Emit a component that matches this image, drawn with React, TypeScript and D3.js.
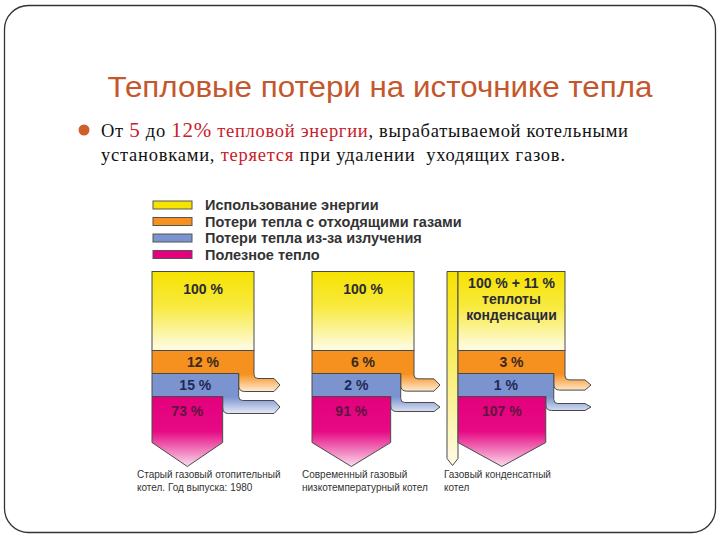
import React from "react";
import * as d3 from "d3";

// ---------- data ----------
const boilers = [
  "Старый газовый отопительный котел",
  "Современный газовый низкотемпературный котел",
  "Газовый конденсатный котел",
];
const boilerCaptions = [
  ["Старый газовый отопительный", "котел. Год выпуска: 1980"],
  ["Современный газовый", "низкотемпературный котел"],
  ["Газовый конденсатный", "котел"],
];
const energyInput = [100, 100, 100];
const condensationGain = [0, 0, 11];
const fluegasLoss = [12, 6, 3];
const radiationLoss = [15, 2, 1];
const usefulHeat = [73, 91, 107];
const legendLabels = [
  "Использование энергии",
  "Потери тепла с отходящими газами",
  "Потери тепла из-за излучения",
  "Полезное тепло",
];
const titleText = "Тепловые потери на источнике тепла";

// ---------- styles ----------
const C = {
  yellow: "#f6e400",
  orange: "#f6901f",
  blue: "#7b93cf",
  pink: "#e5007e",
  stroke: "#4a4a4a",
  title: "#c4572c",
  red: "#c8202a",
};
const legendColors = [C.yellow, C.orange, C.blue, C.pink];

// layout (vertical stages)
const yTop = 271.5;
const yYellow = 350.5;
const yOrange = 373.5;
const yBlue = 396.5;
const yPink = 442.5;
const yTip = 466.5;
const orangeArrowMid = 385;
const blueArrowMid = 407;
const r = 4;

export default function App() {
  const xLeft = d3.scaleOrdinal<string, number>().domain(boilers).range([152, 312, 458]);
  const captionX = d3.scaleOrdinal<string, number>().domain(boilers).range([137, 302, 444]);
  const colWidth = d3.scaleLinear().domain([100, 111]).range([102, 107]);
  const condWidth = d3.scaleLinear().domain([0, 11]).range([0, 11]);
  const legW = d3.scaleLog().domain([1, 15]).range([8, 16]);

  const cols = boilers.map((b, i) => {
    const L = xLeft(b);
    const W = colWidth(energyInput[i] + condensationGain[i]);
    const R = L + W;
    const bR = R - legW(fluegasLoss[i]);
    const pR = bR - legW(radiationLoss[i]);
    return { b, i, L, R, bR, pR };
  });

  const lossPath = (
    L: number, R: number, inner: number, yA: number, yB: number, mid: number, T: number
  ) => {
    const th = Math.min(13, R - inner - 1);
    const a1 = mid - th / 2;
    const a2 = mid + th / 2;
    const p = d3.path();
    p.moveTo(L, yA);
    p.lineTo(R, yA);
    p.lineTo(R, a1 - r);
    p.quadraticCurveTo(R, a1, R + r, a1);
    p.lineTo(T - 6, a1);
    p.lineTo(T, mid);
    p.lineTo(T - 6, a2);
    p.lineTo(inner + 6, a2);
    p.quadraticCurveTo(inner, a2, inner, a2 - 6);
    p.lineTo(inner, yB);
    p.lineTo(L, yB);
    p.closePath();
    return p.toString();
  };

  const pinkPath = (L: number, pR: number) => {
    const p = d3.path();
    p.moveTo(L, yBlue);
    p.lineTo(pR, yBlue);
    p.lineTo(pR, yPink);
    p.lineTo((L + pR) / 2, yTip);
    p.lineTo(L, yPink);
    p.closePath();
    return p.toString();
  };

  const sans = "'Liberation Sans', Arial, sans-serif";
  const serif = "'Liberation Serif', 'Times New Roman', serif";

  return (
    <svg
      width={720}
      height={540}
      style={{ position: "absolute", left: 0, top: 0, background: "#fff" }}
    >
      <defs>
        <linearGradient id="gYellow" x1="0" y1="0" x2="0" y2="1">
          <stop offset="0" stopColor="#f6e200" />
          <stop offset="0.45" stopColor="#f8ea40" />
          <stop offset="1" stopColor="#fffce8" />
        </linearGradient>
        <linearGradient id="gCond" x1="0" y1="0" x2="0" y2="1">
          <stop offset="0" stopColor="#f6e200" />
          <stop offset="0.5" stopColor="#f9ee70" />
          <stop offset="1" stopColor="#fffbe8" />
        </linearGradient>
        <linearGradient id="gPink" gradientUnits="userSpaceOnUse" x1="0" y1={yBlue} x2="0" y2={yTip}>
          <stop offset="0" stopColor="#e4007c" />
          <stop offset="0.5" stopColor="#e60a84" />
          <stop offset="1" stopColor="#fbdcec" />
        </linearGradient>
        <linearGradient id="gOrange" gradientUnits="userSpaceOnUse" x1="0" y1={yYellow} x2="0" y2={393}>
          <stop offset="0" stopColor={C.orange} />
          <stop offset="0.55" stopColor={C.orange} />
          <stop offset="1" stopColor="#fff4e4" />
        </linearGradient>
        <linearGradient id="gBlue" gradientUnits="userSpaceOnUse" x1="0" y1={yOrange} x2="0" y2={415}>
          <stop offset="0" stopColor={C.blue} />
          <stop offset="0.57" stopColor={C.blue} />
          <stop offset="1" stopColor="#f1f3fa" />
        </linearGradient>
      </defs>

      {/* slide frame */}
      <rect x={4.5} y={5.5} width={711} height={527} rx={24} ry={24} fill="#fff" stroke="#333" strokeWidth={1.3} />

      {/* title */}
      <text x={380} y={97} textAnchor="middle" fontFamily={sans} fontSize={29} fill={C.title}
        textLength={545} lengthAdjust="spacingAndGlyphs">
        {titleText}
      </text>

      {/* bullet */}
      <circle cx={84} cy={130} r={5.5} fill="#d0602a" />
      <text x={101} y={137} fontFamily={serif} fontSize={18.5} fill="#111" style={{ whiteSpace: "pre" }}
        textLength={527} lengthAdjust="spacing">
        <tspan>От </tspan>
        <tspan fill={C.red} fontSize={21}>5</tspan>
        <tspan> до </tspan>
        <tspan fill={C.red} fontSize={21}>12%</tspan>
        <tspan fill={C.red}> тепловой энергии</tspan>
        <tspan>, вырабатываемой котельными</tspan>
      </text>
      <text x={101} y={161} fontFamily={serif} fontSize={18.5} fill="#111" style={{ whiteSpace: "pre" }}
        textLength={464} lengthAdjust="spacing">
        <tspan>установками, </tspan>
        <tspan fill={C.red}>теряется</tspan>
        <tspan> при удалении  уходящих газов.</tspan>
      </text>

      {/* legend */}
      {legendLabels.map((lab, k) => {
        const y = 201 + k * 16.5;
        return (
          <g key={lab}>
            <rect x={153} y={y} width={39} height={8} fill={legendColors[k]} stroke="#555" strokeWidth={1} />
            <text x={205} y={y + 9} fontFamily={sans} fontWeight="bold" fontSize={14.5} fill="#333">
              {lab}
            </text>
          </g>
        );
      })}

      {/* columns */}
      {cols.map(({ b, i, L, R, bR, pR }) => {
        const T = R + 26;
        const cw = condWidth(condensationGain[i]);
        const energyLines =
          condensationGain[i] > 0
            ? [`${energyInput[i]} % + ${condensationGain[i]} %`, "теплоты", "конденсации"]
            : [`${energyInput[i]} %`];
        const condPath = (() => {
          const p = d3.path();
          const x0 = L - cw;
          p.moveTo(x0, yTop);
          p.lineTo(L, yTop);
          p.lineTo(L, yTip - 8);
          p.lineTo((x0 + L) / 2, yTip - 1);
          p.lineTo(x0, yTip - 8);
          p.closePath();
          return p.toString();
        })();
        return (
          <g key={b}>
            {cw > 0 && <path d={condPath} fill="url(#gCond)" stroke={C.stroke} strokeWidth={1} />}
            <path d={lossPath(L, R, bR, yYellow, yOrange, orangeArrowMid, T)} fill="url(#gOrange)" stroke={C.stroke} strokeWidth={1} />
            <path d={lossPath(L, bR, pR, yOrange, yBlue, blueArrowMid, T)} fill="url(#gBlue)" stroke={C.stroke} strokeWidth={1} />
            <path d={pinkPath(L, pR)} fill="url(#gPink)" stroke={C.stroke} strokeWidth={1} />
            <rect x={L} y={yTop} width={R - L} height={yYellow - yTop} fill="url(#gYellow)" stroke={C.stroke} strokeWidth={1} />

            {energyLines.map((t, k) => (
              <text key={k} x={(L + R) / 2} y={energyLines.length > 1 ? yTop + 16 + k * 16 : yTop + 22}
                textAnchor="middle" fontFamily={sans} fontWeight="bold" fontSize={14} fill="#2a2a35">
                {t}
              </text>
            ))}
            <text x={(L + R) / 2} y={366.5} textAnchor="middle" fontFamily={sans} fontWeight="bold" fontSize={14} fill="#3a2a1a">
              {`${fluegasLoss[i]} %`}
            </text>
            <text x={(L + bR) / 2} y={390} textAnchor="middle" fontFamily={sans} fontWeight="bold" fontSize={14} fill="#1f2a55">
              {`${radiationLoss[i]} %`}
            </text>
            <text x={(L + pR) / 2} y={415.5} textAnchor="middle" fontFamily={sans} fontWeight="bold" fontSize={14} fill="#5e1540">
              {`${usefulHeat[i]} %`}
            </text>

            {boilerCaptions[i].map((t, k) => (
              <text key={k} x={captionX(b)} y={478 + k * 12.5} fontFamily={sans} fontSize={10} fill="#333">
                {t}
              </text>
            ))}
          </g>
        );
      })}
    </svg>
  );
}
